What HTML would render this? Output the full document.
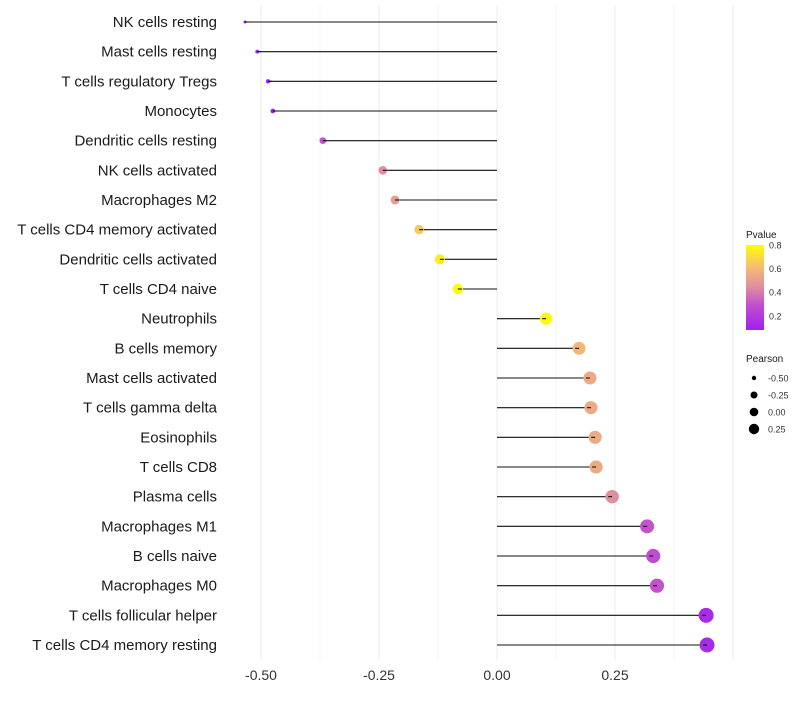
<!DOCTYPE html>
<html><head><meta charset="utf-8"><style>
body{margin:0;background:#fff;font-family:"Liberation Sans",sans-serif}
</style></head><body>
<svg id="chart" width="800" height="700" xmlns="http://www.w3.org/2000/svg"></svg>
<script>
const categories=["NK cells resting","Mast cells resting","T cells regulatory  Tregs","Monocytes","Dendritic cells resting","NK cells activated","Macrophages M2","T cells CD4 memory activated","Dendritic cells activated","T cells CD4 naive","Neutrophils","B cells memory","Mast cells activated","T cells gamma delta","Eosinophils","T cells CD8","Plasma cells","Macrophages M1","B cells naive","Macrophages M0","T cells follicular helper","T cells CD4 memory resting"];
const pearson=[-0.534,-0.508,-0.485,-0.475,-0.369,-0.242,-0.216,-0.165,-0.121,-0.083,0.104,0.174,0.197,0.199,0.208,0.210,0.244,0.318,0.331,0.339,0.443,0.445];
const pvalue=[0.09,0.1,0.1,0.1,0.3,0.45,0.5,0.65,0.75,0.8,0.79,0.6,0.55,0.55,0.55,0.55,0.45,0.3,0.28,0.3,0.13,0.13];
const xTicks=[-0.5,-0.25,0,0.25];
const xTickLabels=["-0.50","-0.25","0.00","0.25"];
const legendP=[0.2,0.4,0.6,0.8];
const legendR=[-0.5,-0.25,0,0.25];
const legendRLabels=["-0.50","-0.25","0.00","0.25"];

const NS="http://www.w3.org/2000/svg",svg=document.getElementById('chart');
function mk(t,a,p){const e=document.createElementNS(NS,t);for(const k in a)e.setAttribute(k,a[k]);(p||svg).appendChild(e);return e;}
const x=v=>497+v*472;
const y=i=>22+i*(623/21);
const r=v=>Math.sqrt(Math.max(0.5,2.25+55.2*(v+0.534)));
const stops=[[0,[160,32,240]],[0.3,[195,80,205]],[0.5,[222,140,160]],[0.75,[246,190,115]],[1,[255,255,0]]];
function col(p){let t=Math.max(0,Math.min(1,(p-0.08)/0.72));for(let k=1;k<stops.length;k++){if(t<=stops[k][0]){const a=stops[k-1],b=stops[k],f=(t-a[0])/(b[0]-a[0]);return 'rgb('+a[1].map((c,j)=>Math.round(c+(b[1][j]-c)*f)).join(',')+')';}}return 'rgb(255,255,0)';}
for(let g=-0.5;g<=0.5;g+=0.125){const l=mk('line',{x1:x(g),x2:x(g),y1:5,y2:660,stroke:'#ebebeb','stroke-width':Math.abs(g*4-Math.round(g*4))<1e-6?1:0.6});
}
xTicks.forEach((v,i)=>{const t=mk('text',{x:x(v),y:680,'text-anchor':'middle','font-size':14,fill:'#333'});t.textContent=xTickLabels[i];
});
categories.forEach((c,i)=>{
 const t=mk('text',{x:217,y:y(i)+5,'text-anchor':'end','font-size':15,fill:'#1a1a1a'});t.textContent=c;
 
 const l=mk('line',{x1:x(0),x2:x(pearson[i]),y1:y(i),y2:y(i),stroke:'#111','stroke-width':1.1});
 
 const d=mk('circle',{cx:x(pearson[i]),cy:y(i),r:r(pearson[i]),fill:col(pvalue[i])});
 
 const s=mk('line',{x1:x(pearson[i]),x2:x(pearson[i])+(pearson[i]<0?4:-4),y1:y(i),y2:y(i),stroke:'#111','stroke-width':1.1});
 
});
const lt=mk('text',{x:746,y:238,'font-size':10,fill:'#1a1a1a'});lt.textContent='Pvalue';

const defs=mk('defs',{});const gr=mk('linearGradient',{id:'pg',x1:0,y1:1,x2:0,y2:0},defs);
for(let k=0;k<=10;k++){mk('stop',{offset:k/10,'stop-color':col(0.08+k*0.072)},gr);}
const cb=mk('rect',{x:746,y:245,width:18,height:85,fill:'url(#pg)'});

const py=p=>330-(p-0.08)/0.72*85;
legendP.forEach(p=>{const t=mk('text',{x:769,y:py(p)+3.5,'font-size':9,fill:'#333'});t.textContent=p.toFixed(1);
});
const st=mk('text',{x:746,y:362,'font-size':10,fill:'#1a1a1a'});st.textContent='Pearson';

const legR=[2.2,3.5,4.3,5.2];
legendR.forEach((v,i)=>{const yy=378+i*17;const c=mk('circle',{cx:754,cy:yy,r:legR[i],fill:'#000'});

const t=mk('text',{x:768,y:yy+3.5,'font-size':9,fill:'#333'});t.textContent=legendRLabels[i];
});
</script>
</body></html>
